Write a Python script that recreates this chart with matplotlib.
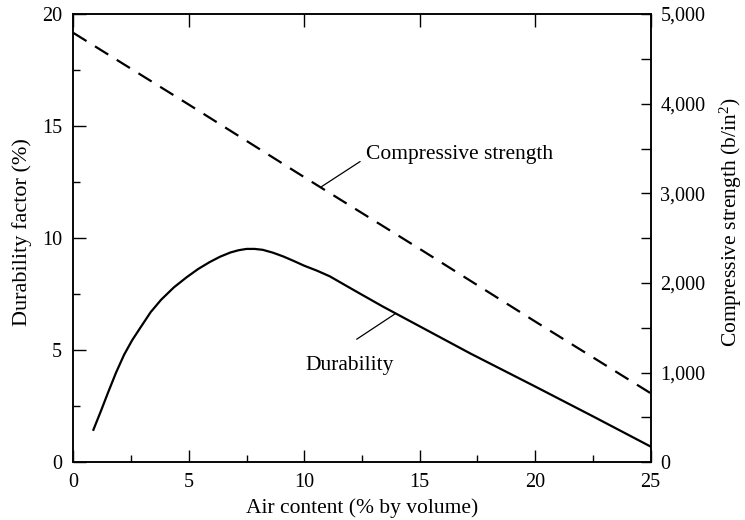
import matplotlib
matplotlib.use("Agg")
import matplotlib.pyplot as plt
from matplotlib.ticker import MultipleLocator, StrMethodFormatter

plt.rcParams['font.family'] = ['Liberation Serif', 'DejaVu Serif']
plt.rcParams['mathtext.default'] = 'regular'

# air content (% by volume) vs durability factor (%)
air_dur = [0.87, 1.2, 1.5, 1.85, 2.2, 2.55, 2.9, 3.35, 3.8, 4.35, 4.9, 5.4,
           5.9, 6.35, 6.8, 7.15, 7.5, 7.85, 8.2, 8.65, 9.1, 9.55, 10.0,
           10.55, 11.1, 12.2, 13.4, 15.3, 17.2, 20.0, 22.5, 25.0]
durability = [1.45, 2.3, 3.1, 4.0, 4.8, 5.45, 6.0, 6.7, 7.25, 7.8, 8.25, 8.62,
              8.93, 9.17, 9.36, 9.46, 9.52, 9.52, 9.48, 9.35, 9.18, 8.98,
              8.77, 8.55, 8.3, 7.65, 6.95, 5.9, 4.85, 3.38, 2.05, 0.70]

# air content vs compressive strength (lb/in^2)
air_cs = [0, 5, 10, 15, 20, 25]
strength = [4790, 3990, 3180, 2380, 1570, 770]

TICK_FS = 14.5
LAB_FS = 15.5

fig = plt.figure(figsize=(7.45, 5.2), dpi=100)
ax = fig.add_axes([0.0984, 0.111, 0.775, 0.862])
ax2 = ax.twinx()

ax.plot(air_dur, durability, color='black', lw=1.6, solid_joinstyle='round')
ax2.plot(air_cs, strength, color='black', lw=1.6, dashes=(7, 4.5))

ax.set_xlim(0, 25)
ax.set_ylim(0, 20)
ax2.set_ylim(0, 5000)

ax.xaxis.set_major_locator(MultipleLocator(5))
ax.xaxis.set_minor_locator(MultipleLocator(2.5))
ax.yaxis.set_major_locator(MultipleLocator(5))
ax.yaxis.set_minor_locator(MultipleLocator(2.5))
ax2.yaxis.set_major_locator(MultipleLocator(1000))
ax2.yaxis.set_minor_locator(MultipleLocator(500))
ax2.yaxis.set_major_formatter(StrMethodFormatter('{x:,.0f}'))

ax.tick_params(axis='x', which='major', direction='in', length=9, width=1,
               top=True, labelsize=TICK_FS, pad=8)
ax.tick_params(axis='x', which='minor', direction='in', length=5, width=1,
               top=False)
ax.tick_params(axis='y', which='major', direction='in', length=9, width=1,
               labelsize=TICK_FS, pad=8)
ax.tick_params(axis='y', which='minor', direction='in', length=5, width=1)
ax2.tick_params(axis='y', which='both', direction='in', length=7, width=1,
                labelsize=TICK_FS, pad=7)

for a in (ax, ax2):
    for s in a.spines.values():
        s.set_linewidth(1.1)

ax.set_xlabel('Air content (% by volume)', fontsize=LAB_FS, labelpad=4)
ax.set_ylabel('Durability factor (%)', fontsize=16)
ax.yaxis.set_label_coords(-0.072, 0.513)
ax2.set_ylabel('Compressive strength (b/in$^2$)', fontsize=LAB_FS)
ax2.yaxis.set_label_coords(1.117, 0.536)

# labels with leader lines
ax.annotate('', xy=(10.75, 12.3), xytext=(12.42, 13.42),
            arrowprops=dict(arrowstyle='-', lw=0.9, color='black',
                            shrinkA=0, shrinkB=0))
ax.text(12.67, 13.72, 'Compressive strength', fontsize=LAB_FS, va='center',
        ha='left')
ax.annotate('', xy=(13.93, 6.62), xytext=(12.27, 5.49),
            arrowprops=dict(arrowstyle='-', lw=0.9, color='black',
                            shrinkA=0, shrinkB=0))
ax.text(10.03, 4.34, 'Durability', fontsize=LAB_FS, va='center', ha='left')

fig.savefig('out.png', dpi=100)
